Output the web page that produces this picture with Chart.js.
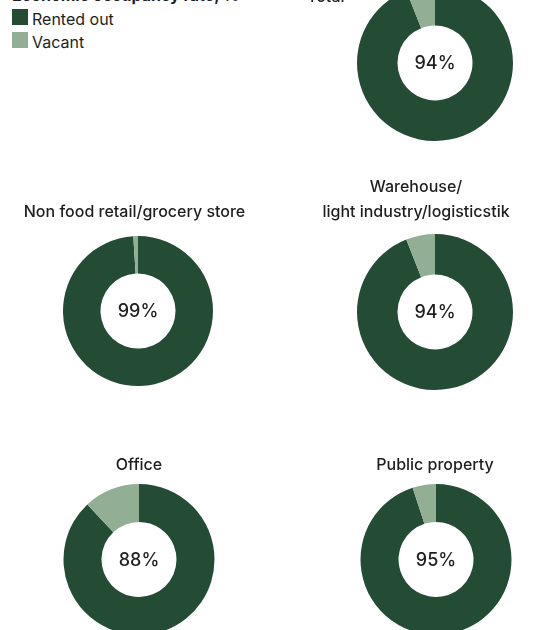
<!DOCTYPE html>
<html>
<head>
<meta charset="utf-8">
<title>Economic occupancy rate</title>
<script src="https://cdn.jsdelivr.net/npm/chart.js@4.4.1/dist/chart.umd.min.js"></script>
<style>
    html, body {
        margin: 0;
        padding: 0;
        width: 542px;
        height: 630px;
        overflow: hidden;
        background: #fff;
        font-family: Inter, "Noto Sans", sans-serif;
        color: #1e1e1e;
    }
    .cell { position: absolute; }
    #legend {
        position: absolute;
        left: 12px;
        top: -16px;
        font-size: 16px;
        line-height: 23.5px;
        white-space: nowrap;
    }
    #legend .lt { font-weight: 700; }
    #legend .sw {
        display: inline-block;
        width: 16px;
        height: 16px;
        margin-right: 4px;
    }
</style>
</head>
<body>
<div id="legend"><div class="lt">Economic occupancy rate, %</div></div>

<script>
// data
const seriesNames = ['Rented out', 'Vacant'];
const seriesColors = ['#244c35', '#92ae95'];
const categories = [
    'Total',
    'Non food retail/grocery store',
    ['Warehouse/', 'light industry/logisticstik'],
    'Office',
    'Public property'
];
const rentedOut = [94, 99, 94, 88, 95];
const vacant = [6, 1, 6, 12, 5];

// where each donut sits on the page
// gap = empty space left of the donut so the title can sit off-centre
const cells = [
    { left: 307, top: -15, width: 256, height: 156, padB: -25, align: 'start', gap: 0 },
    { left: 0, top: 200, width: 269, height: 186, padB: 11, align: 'center', gap: 7 },
    { left: 281, top: 175, width: 270, height: 215, padB: 9, align: 'center', gap: 38 },
    { left: 4, top: 453, width: 270, height: 182, padB: 6, align: 'center', gap: 0 },
    { left: 300, top: 453, width: 270, height: 182, padB: 6, align: 'center', gap: 2 }
];

// legend
var legend = document.getElementById('legend');
seriesNames.forEach(function(name, i) {
    var row = document.createElement('div');
    var sw = document.createElement('span');
    sw.className = 'sw';
    sw.style.background = seriesColors[i];
    row.appendChild(sw);
    row.appendChild(document.createTextNode(name));
    legend.appendChild(row);
});

// percentage in the hole
const centerText = {
    id: 'centerText',
    afterDatasetsDraw(chart) {
        const arc = chart.getDatasetMeta(0).data[0];
        if (!arc) return;
        const ctx = chart.ctx;
        ctx.save();
        ctx.font = '500 18px Inter, "Noto Sans", sans-serif';
        ctx.fillStyle = '#1e1e1e';
        ctx.textAlign = 'center';
        ctx.textBaseline = 'middle';
        ctx.fillText(chart.data.datasets[0].data[0] + '%', arc.x, arc.y + 1);
        ctx.restore();
    }
};

cells.forEach(function(c, i) {
    var div = document.createElement('div');
    div.className = 'cell';
    div.style.left = c.left + 'px';
    div.style.top = c.top + 'px';
    var cv = document.createElement('canvas');
    cv.width = c.width;
    cv.height = c.height;
    cv.style.width = c.width + 'px';
    cv.style.height = c.height + 'px';
    div.appendChild(cv);
    document.body.appendChild(div);

    new Chart(cv.getContext('2d'), {
        type: 'doughnut',
        data: {
            labels: seriesNames,
            datasets: [{
                data: [rentedOut[i], vacant[i]],
                backgroundColor: seriesColors,
                borderWidth: 0,
                hoverOffset: 0
            }]
        },
        options: {
            responsive: false,
            animation: false,
            devicePixelRatio: 1,
            cutout: 37.5,
            layout: { padding: 0 },
            plugins: {
                legend: { display: false },
                tooltip: { enabled: false },
                title: {
                    display: true,
                    text: categories[i],
                    align: c.align,
                    color: '#1e1e1e',
                    font: { family: 'Inter, "Noto Sans", sans-serif', size: 16, weight: '500', lineHeight: 25 / 16 },
                    padding: { top: 0, bottom: c.padB }
                },
                // empty box on the left, only used as a spacer
                subtitle: {
                    display: c.gap > 0,
                    text: '',
                    position: 'left',
                    fullSize: false,
                    font: { size: 10, lineHeight: c.gap + 'px' },
                    padding: 0
                }
            }
        },
        plugins: [centerText]
    });
});
</script>
</body>
</html>
